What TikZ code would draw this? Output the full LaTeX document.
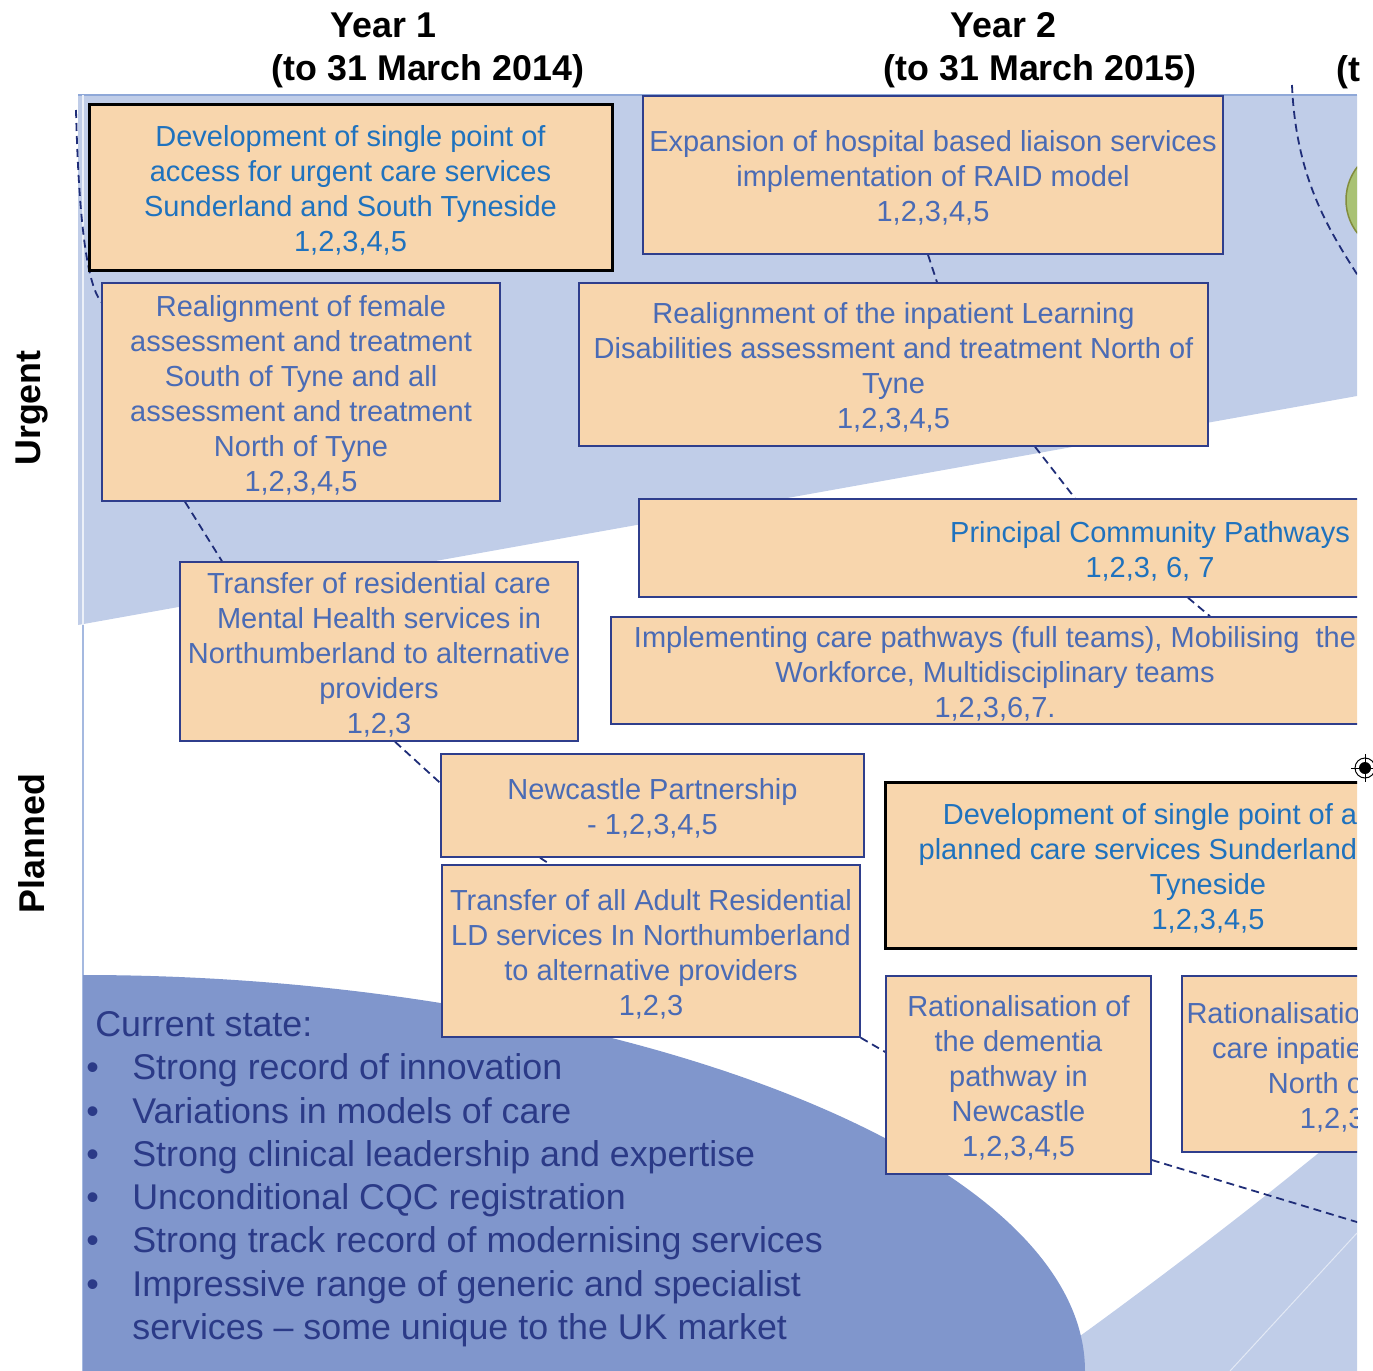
\documentclass[tikz,border=0pt]{standalone}
\usepackage{fontspec}
\setmainfont{Liberation Sans}
\usepackage{tikz}
\usetikzlibrary{calc, backgrounds}
\definecolor{bandblue}{RGB}{192,205,232}
\definecolor{deepblue}{RGB}{128,150,204}
\definecolor{edgeblue}{RGB}{143,168,216}
\definecolor{boxfill}{RGB}{248,214,173}
\definecolor{boxline}{RGB}{47,62,140}
\definecolor{txtcyan}{RGB}{31,114,190}
\definecolor{txtblue}{RGB}{74,107,181}
\definecolor{txtnavy}{RGB}{43,58,135}
\definecolor{linknavy}{RGB}{31,45,120}
\definecolor{sagegreen}{RGB}{169,194,116}
\definecolor{olivegreen}{RGB}{130,140,60}
\newcommand{\padr}[1]{\makebox[#1]{}}
\newcommand{\hd}{\rule{0pt}{13.6pt}}
\newcommand{\blt}{\makebox[23pt][l]{\textbullet}}
\tikzset{
  block/.style={rectangle, draw=boxline, fill=boxfill, text=txtblue,
    align=center, inner sep=0pt, line width=0.75pt,
    font=\fontsize{14.5}{17.5}\selectfont},
  keyblock/.style={block, draw=black, line width=1.5pt, text=txtcyan},
  dashlink/.style={draw=linknavy, line width=0.9pt, dash pattern=on 4pt off 2.5pt},
  yearlabel/.style={font=\bfseries\fontsize{17.9}{21.5}\selectfont, align=center},
  rowlabel/.style={font=\bfseries\fontsize{17.9}{21.5}\selectfont, rotate=90}
}
\begin{document}
\begin{tikzpicture}[x=0.5pt, y=-0.5pt]
  \useasboundingbox (0,0) rectangle (1373,1371);

  % headings
  \node[yearlabel] (year1) at (428,50.5) {Year 1\padr{44.5pt}\\(to 31 March 2014)};
  \node[yearlabel] (year2) at (1040,50.5) {Year 2\padr{36.5pt}\\(to 31 March 2015)};
  \node[yearlabel] (year3) at (1493,72) {(t\padr{144.1pt}};
  \node[rowlabel] (urgent) at (32,408) {Urgent};
  \node[rowlabel] (planned) at (32,843.5) {Planned};

  \begin{scope}
    \clip (0,0) rectangle (1357,1371);
    % year 1 column
    \node[keyblock, minimum width=261.5pt, minimum height=83pt] (b1) at (350.5,187)
      {\hd Development of single point of\\access for urgent care services\\Sunderland and South Tyneside\\1,2,3,4,5};
    \node[block, minimum width=199pt, minimum height=109pt] (b3) at (301,392)
      {\hd Realignment of female\\assessment and treatment\\South of Tyne and all\\assessment and treatment\\North of Tyne\\1,2,3,4,5};
    \node[block, minimum width=199pt, minimum height=89.5pt] (b9) at (379,651.5)
      {\hd Transfer of residential care\\Mental Health services in\\Northumberland to alternative\\providers\\1,2,3};
    \node[block, minimum width=211.5pt, minimum height=51.5pt] (b7) at (652.5,805.5)
      {\hd Newcastle Partnership\\- 1,2,3,4,5};
    \node[block, minimum width=209pt, minimum height=86pt] (b10) at (651,951)
      {\hd Transfer of all Adult Residential\\LD services In Northumberland\\to alternative providers\\1,2,3};
    % year 2 column
    \node[block, minimum width=290pt, minimum height=79pt] (b2) at (933,175)
      {\hd Expansion of hospital based liaison services\\implementation of RAID model\\1,2,3,4,5};
    \node[block, minimum width=314.5pt, minimum height=81.5pt] (b4) at (893.5,364.5)
      {\hd Realignment of the inpatient Learning\\Disabilities assessment and treatment North of\\Tyne\\1,2,3,4,5};
    \node[block, text=txtcyan, minimum width=511pt, minimum height=49pt] (b5) at (1150,548)
      {\hd Principal Community Pathways\\1,2,3, 6, 7};
    \node[block, minimum width=384pt, minimum height=53.5pt] (b6) at (995,670.5)
      {\hd Implementing care pathways (full teams), Mobilising\ \ the\\Workforce, Multidisciplinary teams\\1,2,3,6,7.};
    \node[keyblock, minimum width=323pt, minimum height=83pt] (b8) at (1208,865)
      {\hd Development of single point of a\padr{58pt}\\planned care services Sunderland\padr{70.1pt}\\Tyneside\\1,2,3,4,5};
    \node[block, minimum width=132.5pt, minimum height=99pt] (b11) at (1018.5,1075)
      {\hd Rationalisation of\\the dementia\\pathway in\\Newcastle\\1,2,3,4,5};
    \node[block, minimum width=174.5pt, minimum height=88pt] (b12) at (1356.5,1064)
      {\hd Rationalisatio\padr{82.9pt}\\care inpatie\padr{69.5pt}\\North o\padr{41pt}\\1,2,3\padr{24.3pt}};
    % current state
    \node[text=txtnavy, align=left, anchor=north west, inner sep=0pt,
      font=\fontsize{17.9}{21.65}\selectfont] (state) at (86,1011)
      {\padr{4.5pt}Current state:\\
       \blt Strong record of innovation\\
       \blt Variations in models of care\\
       \blt Strong clinical leadership and expertise\\
       \blt Unconditional CQC registration\\
       \blt Strong track record of modernising services\\
       \blt Impressive range of generic and specialist\\
       \padr{23pt}services – some unique to the UK market};
  \end{scope}

  \begin{pgfonlayer}{background}
    \begin{scope}
      \clip (0,0) rectangle (1357,1371);
      % urgent band
      \fill[bandblue] (78,95) -- (1357,95) -- (1357,396) -- (78,625) -- cycle;
      \draw[edgeblue, line width=0.75pt] (78,95) -- (1357,95);
      \draw[white!70!bandblue, line width=0.75pt] (83,95) -- (83,625);
      \draw[edgeblue!80, line width=0.75pt] (83,625) -- (83,1371);
      % lower right band
      \fill[bandblue] (1080,1336) .. controls (1130,1300) and (1230,1225) .. (1300,1168)
        -- (1357,1122) -- (1357,1371) -- (1085,1371) -- cycle;
      \draw[white!55!bandblue, line width=0.5pt] (1230,1371) -- (1357,1233);
      % current state
      \fill[deepblue] (83,975) .. controls (600,975) and (1085,1150) .. (1085,1371)
        -- (83,1371) -- cycle;
      % year 3 bubble
      \draw[olivegreen, fill=sagegreen, line width=0.75pt] (1400,200) circle[radius=27pt];
      % links
      \coordinate (lefttop) at (76,110);
      \coordinate (righttop) at (1292,85);
      \coordinate (rightfoot) at (1362,282);
      \coordinate (offright) at (1380,1229);
      \draw[dashlink] (lefttop) .. controls (79,230) and (88,285) .. ($(b3.north west)+(0,20)$);
      \draw[dashlink] (righttop) .. controls (1296,180) and (1330,232) .. (rightfoot);
      \draw[dashlink] ($(b2.south)+(-5,0)$) -- ($(b4.north)+(43.5,0)$);
      \draw[dashlink] ($(b4.south)+(141.5,0)$) -- ($(b5.north)+(-75,0)$);
      \draw[dashlink] ($(b5.south)+(38,0)$) -- ($(b6.north)+(215,0)$);
      \draw[dashlink] ($(b3.south)+(-116,0)$) -- ($(b9.north)+(-157,0)$);
      \draw[dashlink] ($(b9.south)+(16,0)$) -- ($(b7.west)+(0,-22.5)$);
      \draw[dashlink] ($(b7.south)+(-112.5,0)$) -- ($(b10.north)+(-101,0)$);
      \draw[dashlink] (b10.south east) -- ($(b11.west)+(0,-23)$);
      \draw[dashlink] ($(b11.east)+(0,85)$) -- (offright);
    \end{scope}
  \end{pgfonlayer}

  % crop mark
  \draw[line width=0.5pt] (1365,768) circle[radius=5pt];
  \fill (1365,768) circle[radius=3pt];
  \draw[line width=0.5pt] (1351,768) -- (1379,768) (1365,754) -- (1365,782);
\end{tikzpicture}
\end{document}
